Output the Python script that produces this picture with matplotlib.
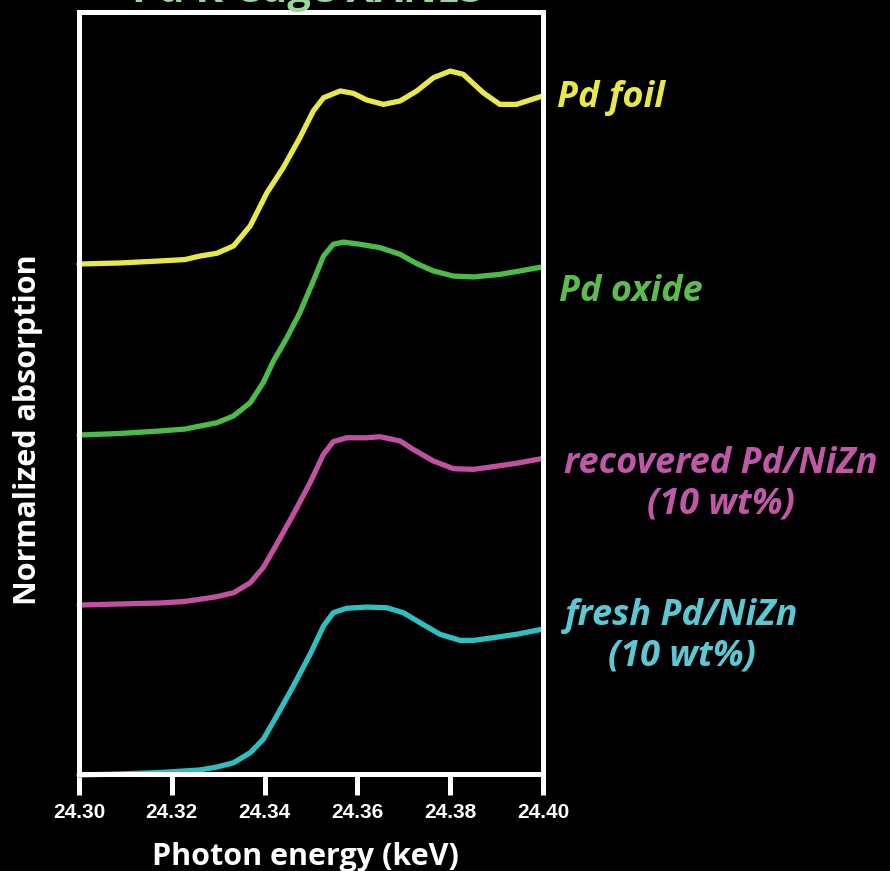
import matplotlib.pyplot as plt

# Energies (keV) and normalized absorption (pre-edge = 0) for each sample
e_foil = [24.3000, 24.3088, 24.3175, 24.3228, 24.3261, 24.3297, 24.3333, 24.3369,
          24.3405, 24.3440, 24.3476, 24.3505, 24.3527, 24.3563, 24.3591, 24.3620,
          24.3656, 24.3692, 24.3728, 24.3764, 24.3800, 24.3828, 24.3871, 24.3907,
          24.3943, 24.3994, 24.4000]
mu_foil = [0.0, 0.006, 0.018, 0.026, 0.047, 0.063, 0.106, 0.224,
           0.419, 0.566, 0.743, 0.900, 0.978, 1.018, 1.004, 0.965,
           0.939, 0.959, 1.018, 1.096, 1.135, 1.116, 1.008, 0.939,
           0.939, 0.984, 0.988]

e_oxide = [24.3000, 24.3088, 24.3175, 24.3228, 24.3261, 24.3297, 24.3333, 24.3369,
           24.3397, 24.3419, 24.3448, 24.3476, 24.3505, 24.3527, 24.3548, 24.3570,
           24.3606, 24.3649, 24.3692, 24.3728, 24.3764, 24.3807, 24.3850, 24.3907,
           24.3950, 24.3997]
mu_oxide = [-0.006, 0.003, 0.018, 0.029, 0.047, 0.066, 0.106, 0.184,
            0.302, 0.429, 0.566, 0.714, 0.900, 1.047, 1.116, 1.129,
            1.116, 1.096, 1.057, 1.002, 0.959, 0.929, 0.924, 0.939,
            0.959, 0.982]

e_recov = [24.3000, 24.3088, 24.3175, 24.3228, 24.3261, 24.3297, 24.3333, 24.3369,
           24.3397, 24.3426, 24.3462, 24.3498, 24.3527, 24.3548, 24.3577, 24.3620,
           24.3649, 24.3692, 24.3720, 24.3764, 24.3807, 24.3850, 24.3893, 24.3943,
           24.3997]
mu_recov = [-0.006, 0.0, 0.006, 0.015, 0.028, 0.043, 0.066, 0.125,
            0.214, 0.351, 0.528, 0.714, 0.881, 0.955, 0.978, 0.978,
            0.984, 0.959, 0.910, 0.841, 0.796, 0.792, 0.808, 0.828,
            0.855]

e_fresh = [24.3000, 24.3088, 24.3175, 24.3228, 24.3261, 24.3297, 24.3333, 24.3369,
           24.3397, 24.3426, 24.3462, 24.3498, 24.3527, 24.3548, 24.3577, 24.3620,
           24.3663, 24.3699, 24.3735, 24.3778, 24.3821, 24.3850, 24.3893, 24.3943,
           24.3997]
mu_fresh = [-0.006, 0.0, 0.009, 0.018, 0.024, 0.041, 0.066, 0.125,
            0.204, 0.341, 0.518, 0.704, 0.871, 0.949, 0.975, 0.982,
            0.978, 0.949, 0.890, 0.822, 0.786, 0.786, 0.802, 0.822,
            0.851]

offsets = [3, 2, 1, 0]
colors = ['#e8e84a', '#4cbb4a', '#c050a0', '#2ec0c0']
text_colors = ['#e8e84a', '#5cbc4c', '#c058a8', '#5cc8d4']
xticks = [24.30, 24.32, 24.34, 24.36, 24.38, 24.40]

fig = plt.figure(figsize=(8.9, 8.71), dpi=100, facecolor='black')
ax = fig.add_axes([79/890, 1-774/871, 464/890, 762/871], facecolor='black')

curves = [(e_foil, mu_foil), (e_oxide, mu_oxide), (e_recov, mu_recov), (e_fresh, mu_fresh)]
for (e, mu), off, c in zip(curves, offsets, colors):
    ax.plot(e, [m + off for m in mu], color=c, lw=3.8, solid_capstyle='round',
            solid_joinstyle='round', clip_on=False)

ax.set_xlim(24.30, 24.40)
ax.set_ylim(0, 762/170)
ax.set_xticks(xticks)
ax.set_xticklabels(['%.2f' % t for t in xticks], color='white', fontsize=15,
                   fontweight='bold', family='Liberation Sans')
ax.set_yticks([])
ax.tick_params(axis='x', direction='out', length=15, width=3.6, color='white', pad=6)
for s in ax.spines.values():
    s.set_color('white')
    s.set_linewidth(3.6)

fig.text(305/890, 1-857/871, 'Photon energy (keV)', color='white', fontsize=22,
         fontweight='bold', family='Open Sans', ha='center', va='center')
fig.text(28/890, 1-430/871, 'Normalized absorption', color='white', fontsize=22,
         fontweight='bold', family='Open Sans', ha='center', va='center', rotation=90)

# title, cut off at the top edge as in the original
fig.text(308/890, 1-2.5/871, 'Pd K-edge XANES', color='#98d898', fontsize=30,
         fontweight='bold', family='Open Sans', ha='center', va='baseline')

labels = [('Pd foil', 557, 98, 'left'),
          ('Pd oxide', 559, 292, 'left'),
          ('recovered Pd/NiZn\n(10 wt%)', 721, 484, 'center'),
          ('fresh Pd/NiZn\n(10 wt%)', 682, 636, 'center')]
for (txt, px, py, ha), c in zip(labels, text_colors):
    fig.text(px/890, 1-py/871, txt, color=c, fontsize=26, fontweight='bold',
             style='italic', family='Open Sans', ha=ha, va='center',
             multialignment='center', linespacing=1.15)

fig.savefig('out.png', dpi=100, facecolor='black')
